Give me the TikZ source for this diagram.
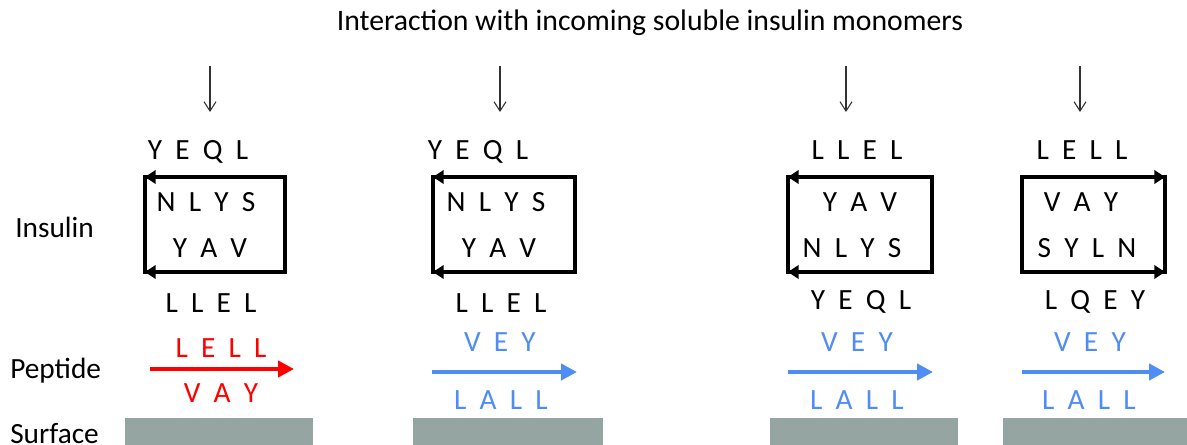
\documentclass[tikz,border=0pt]{standalone}
\usepackage{fontspec}
\setmainfont{Carlito}
\usetikzlibrary{arrows.meta}
\definecolor{pepblue}{RGB}{79,140,245}
\definecolor{pepred}{RGB}{255,0,0}
\definecolor{surf}{RGB}{148,165,162}
\definecolor{thinarrow}{RGB}{50,50,50}
\newcommand{\gp}{\hspace{0.45em}}
\begin{document}
\begin{tikzpicture}[x=0.75pt,y=-0.75pt,
  seq/.style={font=\fontsize{22}{26}\selectfont, inner sep=0pt, text height=14.25pt, text depth=0pt},
  lab/.style={font=\fontsize{22}{26}\selectfont, inner sep=0pt, text height=14.25pt, text depth=0pt, anchor=west},
  title/.style={font=\fontsize{22.3}{26}\selectfont, inner sep=0pt},
  incoming/.style={draw=thinarrow, line width=0.8pt, -{Straight Barb[length=7pt,width=9pt]}},
  boxline/.style={draw=black, line width=3pt, line join=miter},
  boxarrow/.style={draw=black, line width=3pt, -{Triangle[length=8pt,width=10pt]}},
  redpep/.style={draw=pepred, line width=3pt, -{Triangle[length=12pt,width=12pt]}},
  bluepep/.style={draw=pepblue, line width=3pt, -{Triangle[length=12pt,width=12pt]}},
  surface/.style={fill=surf, draw=none}]
\useasboundingbox (0,0) rectangle (1187,445);

% title
\node[title] (title) at (650,23) {Interaction with incoming soluble insulin monomers};

% row labels
\node[lab] (linsulin) at (15,228) {Insulin};
\node[lab] (lpeptide) at (10,369) {Peptide};
\node[lab] (lsurface) at (10,434) {Surface};

% incoming arrows
\foreach \i/\x in {1/210,2/500,3/846,4/1080}{
  \coordinate (in\i a) at (\x,66);
  \coordinate (in\i b) at (\x,112);
  \draw[incoming] (in\i a) -- (in\i b);
}

% ---------- Panel 1 ----------
\node[seq] (p1top) at (198,150) {Y\gp E\gp Q\gp L};
\coordinate (b1nw) at (145,177); \coordinate (b1ne) at (285,177);
\coordinate (b1sw) at (145,272); \coordinate (b1se) at (285,272);
\draw[boxline] (b1nw) -- (b1ne) -- (b1se) -- (b1sw) -- cycle;
\draw[boxarrow] (b1ne) -- (b1nw);
\draw[boxarrow] (b1se) -- (b1sw);
\node[seq] (p1r1) at (206,202) {N\gp L\gp Y\gp S};
\node[seq] (p1r2) at (210,248) {Y\gp A\gp V};
\node[seq] (p1bot) at (211,303) {L\gp L\gp E\gp L};
\node[seq, text=pepred] (p1pa) at (221,348) {L\gp E\gp L\gp L};
\coordinate (pep1a) at (150,369); \coordinate (pep1b) at (294,369);
\draw[redpep] (pep1a) -- (pep1b);
\node[seq, text=pepred] (p1pb) at (221,393) {V\gp A\gp Y};
\fill[surface] (125,418) rectangle (313,445);

% ---------- Panel 2 ----------
\node[seq] (p2top) at (478,150) {Y\gp E\gp Q\gp L};
\coordinate (b2nw) at (433,177); \coordinate (b2ne) at (575,177);
\coordinate (b2sw) at (433,272); \coordinate (b2se) at (575,272);
\draw[boxline] (b2nw) -- (b2ne) -- (b2se) -- (b2sw) -- cycle;
\draw[boxarrow] (b2ne) -- (b2nw);
\draw[boxarrow] (b2se) -- (b2sw);
\node[seq] (p2r1) at (496,202) {N\gp L\gp Y\gp S};
\node[seq] (p2r2) at (499,248) {Y\gp A\gp V};
\node[seq] (p2bot) at (501,303) {L\gp L\gp E\gp L};
\node[seq, text=pepblue] (p2pa) at (500,342) {V\gp E\gp Y};
\coordinate (pep2a) at (432,372); \coordinate (pep2b) at (577,372);
\draw[bluepep] (pep2a) -- (pep2b);
\node[seq, text=pepblue] (p2pb) at (501,400) {L\gp A\gp L\gp L};
\fill[surface] (413,418) rectangle (603,445);

% ---------- Panel 3 ----------
\node[seq] (p3top) at (857,150) {L\gp L\gp E\gp L};
\coordinate (b3nw) at (788,177); \coordinate (b3ne) at (932,177);
\coordinate (b3sw) at (788,272); \coordinate (b3se) at (932,272);
\draw[boxline] (b3nw) -- (b3ne) -- (b3se) -- (b3sw) -- cycle;
\draw[boxarrow] (b3ne) -- (b3nw);
\draw[boxarrow] (b3se) -- (b3sw);
\node[seq] (p3r1) at (860,202) {Y\gp A\gp V};
\node[seq] (p3r2) at (852,248) {N\gp L\gp Y\gp S};
\node[seq] (p3bot) at (861,300) {Y\gp E\gp Q\gp L};
\node[seq, text=pepblue] (p3pa) at (857,342) {V\gp E\gp Y};
\coordinate (pep3a) at (788,372); \coordinate (pep3b) at (933,372);
\draw[bluepep] (pep3a) -- (pep3b);
\node[seq, text=pepblue] (p3pb) at (857,400) {L\gp A\gp L\gp L};
\fill[surface] (770,418) rectangle (958,445);

% ---------- Panel 4 ----------
\node[seq] (p4top) at (1082,150) {L\gp E\gp L\gp L};
\coordinate (b4nw) at (1022,177); \coordinate (b4ne) at (1165,177);
\coordinate (b4sw) at (1022,272); \coordinate (b4se) at (1165,272);
\draw[boxline] (b4nw) -- (b4ne) -- (b4se) -- (b4sw) -- cycle;
\draw[boxarrow] (b4nw) -- (b4ne);
\draw[boxarrow] (b4sw) -- (b4se);
\node[seq] (p4r1) at (1081,202) {V\gp A\gp Y};
\node[seq] (p4r2) at (1087,248) {S\gp Y\gp L\gp N};
\node[seq] (p4bot) at (1095,300) {L\gp Q\gp E\gp Y};
\node[seq, text=pepblue] (p4pa) at (1090,342) {V\gp E\gp Y};
\coordinate (pep4a) at (1022,372); \coordinate (pep4b) at (1165,372);
\draw[bluepep] (pep4a) -- (pep4b);
\node[seq, text=pepblue] (p4pb) at (1089,400) {L\gp A\gp L\gp L};
\fill[surface] (1003,418) rectangle (1187,445);
\end{tikzpicture}
\end{document}
